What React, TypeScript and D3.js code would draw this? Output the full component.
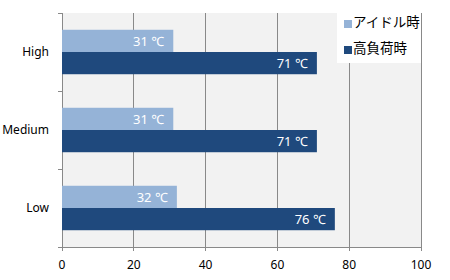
import React from "react";
import * as d3 from "d3";

const categories = ["High", "Medium", "Low"];
const idleValues = [31, 31, 32];
const loadValues = [71, 71, 76];
const seriesNames = ["アイドル時", "高負荷時"];
const xTicks = [0, 20, 40, 60, 80, 100];

const W = 450, H = 280;
const M = { left: 62, right: 29, top: 13, bottom: 33 };
const colors = ["#95b3d7", "#1f497d"];
const font = "'Noto Sans', 'Noto Sans CJK JP', sans-serif";

export default function App() {
  const x = d3.scaleLinear().domain([0, 100]).range([M.left, W - M.right]);
  const y = d3.scaleBand().domain(categories).range([M.top, H - M.bottom]).paddingInner(0.43).paddingOuter(0.215);
  const bh = y.bandwidth() / 2;
  const y0 = M.top, y1 = H - M.bottom;
  const step = (y1 - y0) / categories.length;
  const series = [idleValues, loadValues];
  return (
    <svg width={W} height={H} style={{ position: "absolute", left: 0, top: 0, fontFamily: font }}>
      <rect x={0} y={0} width={W} height={H} fill="#fff" />
      <rect x={x(0)} y={y0} width={x(100) - x(0)} height={y1 - y0} fill="#f2f2f2" />
      {xTicks.map((t) => (
        <g key={t}>
          <line x1={x(t)} x2={x(t)} y1={y0} y2={y1 + 4} stroke="#898989" strokeWidth={1} shapeRendering="crispEdges" />
          <text x={x(t)} y={y1 + 22} textAnchor="middle" fontSize={12} fill="#000">{t}</text>
        </g>
      ))}
      {d3.range(categories.length + 1).map((i) => (
        <line key={i} x1={x(0) - 4} x2={x(0)} y1={y0 + i * step} y2={y0 + i * step} stroke="#898989" shapeRendering="crispEdges" />
      ))}
      <line x1={x(0)} x2={x(100)} y1={y1} y2={y1} stroke="#898989" shapeRendering="crispEdges" />
      {categories.map((c, i) => (
        <g key={c}>
          <text x={49} y={(y(c) as number) + bh} dy="0.35em" textAnchor="end" fontSize={12} fill="#000">{c}</text>
          {series.map((vals, s) => (
            <g key={s}>
              <rect x={x(0)} y={(y(c) as number) + s * bh} width={x(vals[i]) - x(0)} height={bh} fill={colors[s]} />
              <text x={x(vals[i]) - 9} y={(y(c) as number) + s * bh + bh / 2} dy="0.36em" textAnchor="end" fontSize={13} fill="#fff">{vals[i]} ℃</text>
            </g>
          ))}
        </g>
      ))}
      <rect x={337} y={y0} width={x(100) - 337} height={50} fill="#fff" />
      {seriesNames.map((n, s) => (
        <g key={n}>
          <rect x={344} y={20 + s * 26} width={8} height={8} fill={colors[s]} />
          <text x={353} y={27 + s * 26} fontSize={13.5} fill="#000">{n}</text>
        </g>
      ))}
    </svg>
  );
}
